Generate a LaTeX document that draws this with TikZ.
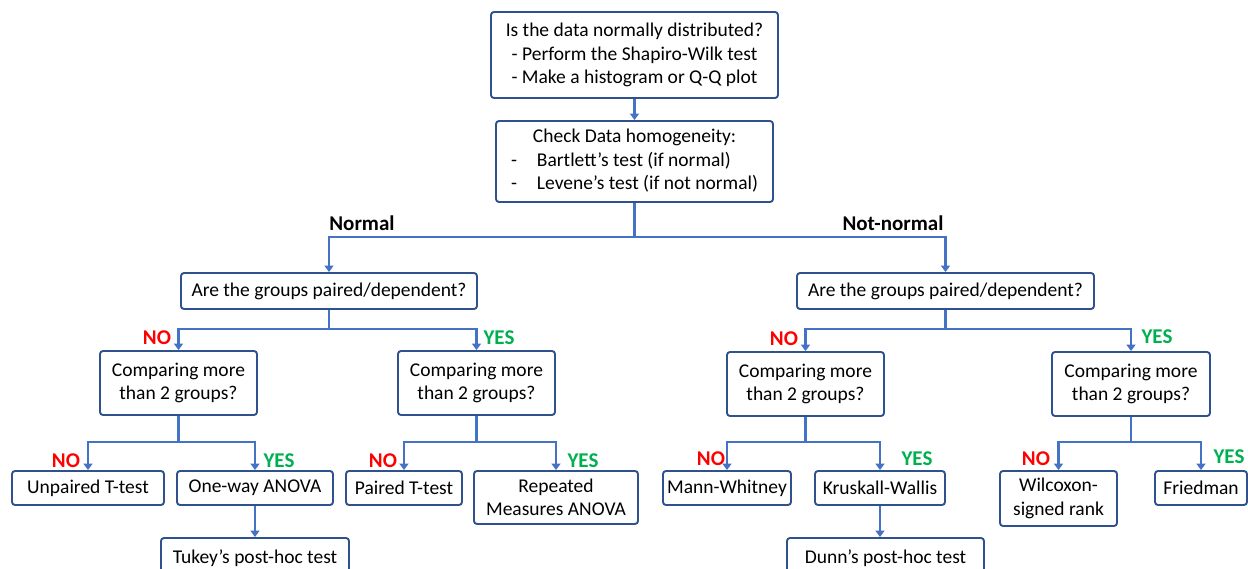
\documentclass[tikz,border=0pt]{standalone}
\usepackage{fontspec}
\setmainfont{Carlito}
\usetikzlibrary{arrows.meta}
\definecolor{boxblue}{HTML}{2F528F}
\definecolor{arrblue}{HTML}{4472C4}
\definecolor{nored}{HTML}{FF0000}
\definecolor{yesgreen}{HTML}{00B050}
\tikzset{
  box/.style={draw=boxblue, line width=1.9pt, rounded corners=3pt, fill=white, align=center, inner sep=0pt,
    font=\fontsize{19.5}{23.5}\selectfont},
  conn/.style={draw=arrblue, line width=2.9pt},
  arr/.style={conn, -{Triangle[width=9pt,length=6.5pt]}},
  nolab/.style={text=nored, font=\fontsize{21}{22}\selectfont\bfseries, inner sep=0pt},
  yeslab/.style={text=yesgreen, font=\fontsize{21}{22}\selectfont\bfseries, inner sep=0pt},
  branchlab/.style={text=black, font=\fontsize{21}{22}\selectfont\bfseries, inner sep=0pt},
}
\begin{document}
\begin{tikzpicture}[x=1pt,y=-1pt]
\useasboundingbox (0,0) rectangle (1248,569);
\clip (0,0) rectangle (1248,569);
% top
\node[box, minimum width=287, minimum height=86] (q1) at (634.5,55) {Is the data normally distributed?\\- Perform the Shapiro-Wilk test\\- Make a histogram or Q-Q plot};
\node[box, minimum width=277, minimum height=81] (q2) at (634.5,161.5) {\begin{tabular}{@{}l@{\hspace{20pt}}l@{}}\multicolumn{2}{c}{Check Data homogeneity:}\\[0pt]-&Bartlett’s test (if normal)\\-&Levene’s test (if not normal)\end{tabular}};
\draw[arr] (q1.south) -- (q2.north);
% paired boxes
\node[box, minimum width=296, minimum height=36] (pl) at (329,291) {Are the groups paired/dependent?};
\node[box, minimum width=297, minimum height=36] (pr) at (945.5,291) {Are the groups paired/dependent?};
\coordinate (s1) at (634.5,237);
\draw[conn] (q2.south) -- (s1);
\draw[arr] (s1) -| (pl.north);
\draw[arr] (s1) -| (pr.north);
\node[branchlab] (normal) at (362,223) {Normal};
\node[branchlab] (notnormal) at (893,223) {Not-normal};
% comparing boxes
\node[box, minimum width=157, minimum height=64] (cll) at (178.5,383) {Comparing more\\than 2 groups?};
\node[box, minimum width=157, minimum height=64] (clr) at (476.5,383) {Comparing more\\than 2 groups?};
\node[box, minimum width=157, minimum height=64] (crl) at (805.5,384) {Comparing more\\than 2 groups?};
\node[box, minimum width=158, minimum height=64] (crr) at (1131,384) {Comparing more\\than 2 groups?};
\coordinate (s2) at (329,329);
\draw[conn] (pl.south) -- (s2);
\draw[arr] (s2) -| (cll.north);
\draw[arr] (s2) -| (clr.north);
\node[nolab] (no1) at (157,338) {NO};
\node[yeslab] (yes1) at (499,338) {YES};
\coordinate (s3) at (945.5,329);
\draw[conn] (pr.south) -- (s3);
\draw[arr] (s3) -| (crl.north);
\draw[arr] (s3) -| (crr.north);
\node[nolab] (no2) at (784,339) {NO};
\node[yeslab] (yes2) at (1157,337) {YES};
% leaves left-left
\node[box, minimum width=152, minimum height=34] (unp) at (88,488) {Unpaired T-test};
\node[box, minimum width=156, minimum height=34] (owa) at (255,488) {One-way ANOVA};
\node[box, minimum width=188, minimum height=40] (tuk) at (255,558) {Tukey’s post-hoc test};
\coordinate (s4) at (178.5,442);
\draw[conn] (cll.south) -- (s4);
\draw[arr] (s4) -| (unp.north);
\draw[arr] (s4) -| (owa.north);
\draw[arr] (owa.south) -- (owa.south |- tuk.north);
\node[nolab] (no3) at (66,461) {NO};
\node[yeslab] (yes3) at (279,461) {YES};
% leaves left-right
\node[box, minimum width=116, minimum height=34] (pai) at (404,488) {Paired T-test};
\node[box, minimum width=164, minimum height=53] (rma) at (556,497.5) {Repeated\\Measures ANOVA};
\coordinate (s5) at (476.5,442);
\draw[conn] (clr.south) -- (s5);
\draw[arr] (s5) -| (pai.north);
\draw[arr] (s5) -| (rma.north);
\node[nolab] (no4) at (383,461) {NO};
\node[yeslab] (yes4) at (583,461) {YES};
% leaves right-left
\node[box, minimum width=128, minimum height=34] (mw) at (727,488) {Mann-Whitney};
\node[box, minimum width=130, minimum height=34] (kw) at (880,488) {Kruskall-Wallis};
\node[box, minimum width=197, minimum height=40] (dun) at (885.5,558) {Dunn’s post-hoc test};
\coordinate (s6) at (805.5,442);
\draw[conn] (crl.south) -- (s6);
\draw[arr] (s6) -| (mw.north);
\draw[arr] (s6) -| (kw.north);
\draw[arr] (kw.south) -- (kw.south |- dun.north);
\node[nolab] (no5) at (711,459) {NO};
\node[yeslab] (yes5) at (917,459) {YES};
% leaves right-right
\node[box, minimum width=117, minimum height=55] (wil) at (1058.5,498.5) {Wilcoxon-\\signed rank};
\node[box, minimum width=92, minimum height=34] (fri) at (1201,488) {Friedman};
\coordinate (s7) at (1131,442);
\draw[conn] (crr.south) -- (s7);
\draw[arr] (s7) -| (wil.north);
\draw[arr] (s7) -| (fri.north);
\node[nolab] (no6) at (1036,459) {NO};
\node[yeslab] (yes6) at (1229,457) {YES};
\end{tikzpicture}
\end{document}
